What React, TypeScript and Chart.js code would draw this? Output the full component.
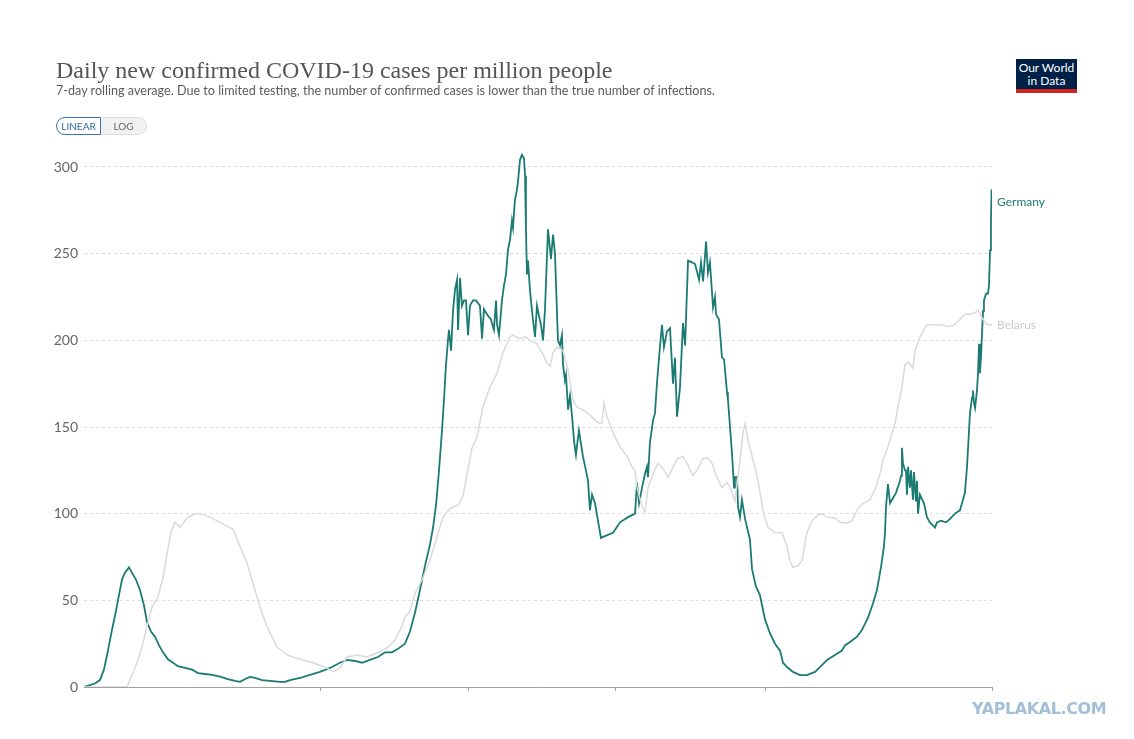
import React, { useEffect, useRef } from "react";
import { Chart, registerables } from "chart.js";

Chart.register(...registerables);

// Days since the start of the displayed window (early March 2020)
const germanyDays = [
  0, 7.4, 10.7, 13.4, 16.1, 18.8, 21.5, 23.5, 25.5, 27.5, 30.2, 32.2, 34.9, 37.6, 40.3, 42.3, 45, 47.7, 50.4, 53.1,
  56.4, 59.8, 63.1, 67.9, 72.6, 76.6, 81.3, 86, 91.4, 96.7, 101.4, 104.8, 108.2, 111.5, 114.9, 119.6, 125, 131.7, 135, 138.4,
  145.1, 151.8, 158.5, 165.3, 172, 176.7, 182.1, 186.8, 192.1, 197.5, 202.2, 206.9, 210.9, 215.6, 219, 222.4, 225.7, 229.1, 232.4, 234.5,
  236.5, 238.5, 240.5, 241.8, 243.2, 244.5, 245.2, 246.6, 247.9, 249.2, 250.6, 251.3, 252.6, 253.9, 255.3, 256.6, 258, 259.3, 261.3, 263.3,
  266, 267.4, 268.7, 270.7, 273.4, 275.4, 276.8, 277.5, 278.8, 280.8, 282.2, 283.5, 284.8, 286.2, 287.5, 288.2, 289.5, 290.9, 291.6, 292.9,
  294.2, 295.6, 296.3, 296.9, 297.6, 298.3, 299.6, 301.6, 303, 304.3, 305.7, 307, 308.4, 309.7, 311.7, 313.7, 315.1, 316.4, 318.4, 319.8,
  321.1, 321.8, 323.1, 323.8, 325.2, 326.5, 327.8, 329.2, 330.5, 332.5, 335.2, 337.2, 338.6, 339.9, 341.3, 343.3, 345.3, 347.3, 350, 355.4,
  360.1, 365.5, 370.2, 371.5, 372.9, 374.9, 376.9, 378.2, 378.9, 380.2, 382.3, 383.6, 384.9, 386.9, 388.3, 389.6, 391.6, 393.7, 395.7, 397,
  398.4, 400.4, 402.4, 403.8, 405.8, 408.5, 410.5, 413.2, 414.5, 415.9, 417.9, 419.2, 420.5, 422.6, 423.9, 424.6, 426.6, 428.6, 430, 432,
  432.6, 435.3, 436.7, 437.3, 438.7, 439.4, 440.7, 442, 444.1, 447.4, 448.8, 451.4, 454.1, 457.5, 460.8, 464.2, 467.6, 469.6, 472.3, 476.3,
  481, 485.7, 491.1, 494.4, 499.2, 504.5, 509.2, 511.2, 514.6, 519.3, 522.7, 526.7, 530, 532.7, 535.4, 537.4, 538.1, 538.8, 540.1, 541.5,
  543.5, 545.5, 548.2, 548.9, 549.5, 550.2, 551.5, 552.2, 552.9, 553.6, 554.9, 555.6, 556.9, 557.6, 558.9, 559.6, 560.3, 561.6, 564.3, 566.3,
  568.3, 571.7, 573, 575.7, 579.1, 581.8, 585.1, 588.5, 591.8, 593.2, 594.5, 595.2, 596.6, 597.2, 597.9, 598.6, 599.9, 600.6, 601.3, 601.9,
  602.6, 603.3, 604, 604.6, 606, 607.3, 608, 608.7, 609.3, 609.7, 610,
];
const germanyValues = [
  0, 2, 4, 10, 21, 33, 44, 53, 62, 66, 69, 66, 62, 56, 47, 37.5, 32, 29, 24, 20,
  16, 14, 12, 11, 10, 8, 7.5, 7, 6, 4.6, 3.5, 3, 4.6, 5.8, 5.2, 4, 3.5, 3, 3, 4,
  5.2, 7, 8.7, 11, 14, 15.6, 15, 14, 15.6, 17.3, 20, 20, 22, 25, 32, 43, 56, 70, 82, 92,
  105, 125, 148, 165, 186, 200, 206, 194, 217, 229, 235, 206, 236, 220, 223, 223, 203, 220, 223, 223,
  220, 201, 218, 215, 212, 206, 223, 209, 203, 223, 232, 238, 252, 258, 269, 265, 281, 287, 292, 304,
  307, 305, 295, 264, 238, 246, 229, 212, 202, 220, 214, 209, 200, 218, 264, 247, 261, 250, 200, 197,
  203, 186, 177, 180, 160, 168, 157, 142, 134, 148, 133, 125, 119, 102, 111, 106, 96, 86, 87, 89,
  95, 98, 100, 118, 106, 115, 123, 127, 121, 141, 154, 158, 175, 196, 209, 196, 205, 207, 175, 190,
  156, 173, 210, 197, 246, 245, 244, 235, 245, 234, 257, 239, 245, 219, 225, 215, 212, 190, 189, 170,
  166, 135, 115, 121, 121, 104, 98, 108, 97, 85, 68, 58, 53, 39, 31, 25, 21, 14, 11.5, 8.7,
  6.9, 6.9, 8.7, 11.5, 15.6, 18.5, 21, 24, 26, 29, 33, 40, 48, 56, 69, 81, 89, 104, 117, 106,
  109, 112, 119, 122, 138, 129, 125, 125, 111, 127, 115, 125, 108, 124, 107, 119, 100, 111, 106, 98,
  95, 92, 95, 96, 95, 97, 100, 102, 112, 127, 147, 158, 167, 171, 164, 161, 171, 181, 198, 181,
  190, 204, 217, 223, 227, 227, 232, 252, 268, 287, 280,
];

const belarusDays = [
  0, 28.9, 35.6, 39, 42.3, 45.7, 49.7, 53.1, 55.8, 58.4, 61.1, 64.5, 69.2, 74.6, 77.9, 84.6, 91.4, 100.1, 104.8, 109.5,
  113.5, 118.2, 122.9, 129.7, 136.4, 145.1, 153.8, 163.2, 167.3, 172, 176.7, 183.4, 190.1, 196.8, 203.6, 208.9, 213.6, 215.6, 219, 222.4,
  227.7, 232.4, 237.1, 241.2, 245.9, 251.3, 254.6, 257.3, 260.7, 264, 268, 272.7, 277.5, 281.5, 286.2, 288.2, 292.9, 296.3, 299.6, 304.3,
  307.7, 311, 313.1, 315.1, 317.8, 321.8, 325.2, 328.5, 331.2, 335.2, 339.9, 343.3, 346.6, 348, 349.3, 351.3, 355.4, 360.1, 364.8, 368.1,
  370.2, 371.5, 374.9, 376.9, 378.9, 382.3, 385.6, 389, 392.3, 395.7, 399, 402.4, 405.8, 409.1, 412.5, 415.9, 419.2, 421.9, 425.2, 428.6,
  432, 435.3, 437.3, 440.7, 442.7, 444.1, 446.1, 449.4, 452.8, 456.1, 459.5, 464.2, 469, 472.3, 474.3, 476.3, 479.7, 482.4, 485.7, 489.1,
  494.4, 499.8, 504.5, 507.9, 512.6, 515.9, 520, 523.3, 528, 531.4, 534.8, 536.8, 540.1, 542.8, 544.8, 546.8, 549.5, 551.5, 553.6, 556.9,
  558.3, 561.6, 566.3, 576.4, 579.8, 583.8, 588.5, 591.8, 595.2, 598.6, 600.6, 603.3, 606.6, 610,
];
const belarusValues = [
  0, 0, 14, 23, 35, 46, 52, 63, 77, 89, 95, 92, 97.5, 100, 100, 98, 95, 91, 81, 71.5,
  60, 46, 35, 23, 18.5, 16, 14, 11, 8.7, 11, 17.3, 18.5, 17.3, 19.6, 22.5, 27, 35, 40, 44, 54,
  63, 73, 86.5, 98, 103, 105, 110, 123, 138, 144, 161.5, 173, 181, 193, 202, 203, 201, 202, 200, 198,
  193, 187, 185, 193, 196, 194, 183, 165.6, 161.5, 160, 157, 154, 152, 152, 164, 156, 146.5, 138.5, 133, 127,
  125, 115, 104, 101, 115, 123, 129, 126, 121, 127, 132, 133, 128, 122, 126, 132, 132, 129, 121, 115,
  118, 112.5, 107, 131, 146.5, 152, 142.5, 131, 119, 102, 92, 89, 89, 81, 73, 69, 70, 73, 89, 96,
  100, 98, 97.5, 95, 94.6, 96, 103, 106, 108, 114, 123, 131, 138.5, 146.5, 152, 161.5, 173, 186, 187.5, 184,
  194, 202, 209, 209, 208, 208.5, 212, 215, 215, 216, 217.5, 213, 209, 209,
];

const yTickValues = [0, 50, 100, 150, 200, 250, 300];
const xTickDays = [159.2, 258.6, 357.4, 457.5, 610];
const germanyName = "Germany";
const belarusName = "Belarus";
const germanyColor = "#1b7b73";
const belarusColor = "#dadada";
const germanyLabelColor = "#1b7b73";
const belarusLabelColor = "#cbcbcb";

const endLabels = {
  id: "endLabels",
  afterDatasetsDraw(chart: any) {
    const ctx = chart.ctx;
    ctx.save();
    ctx.font = "12px Lato";
    ctx.textBaseline = "middle";
    ctx.textAlign = "left";
    chart.data.datasets.forEach((ds: any, i: number) => {
      const meta = chart.getDatasetMeta(i);
      const pt = meta.data[meta.data.length - 1];
      if (!pt) return;
      ctx.fillStyle = ds.labelColor;
      ctx.fillText(ds.label, pt.x + 5, pt.y);
    });
    ctx.restore();
  },
};

export default function App() {
  const canvasRef = useRef<HTMLCanvasElement | null>(null);

  useEffect(() => {
    if (!canvasRef.current) return;
    const yMax = 310;
    const zeroY = 687;
    const pxPerUnit = 520 / 300;
    const chart = new Chart(canvasRef.current, {
      type: "line",
      data: {
        datasets: [
          {
            label: belarusName,
            labelColor: belarusLabelColor,
            data: belarusDays.map((d, i) => ({ x: d, y: belarusValues[i] })),
            borderColor: belarusColor,
            borderWidth: 1.5,
            pointRadius: 0,
            tension: 0,
          } as any,
          {
            label: germanyName,
            labelColor: germanyLabelColor,
            data: germanyDays.map((d, i) => ({ x: d, y: germanyValues[i] })),
            borderColor: germanyColor,
            borderWidth: 1.8,
            pointRadius: 0,
            tension: 0,
          } as any,
        ],
      },
      options: {
        animation: false,
        responsive: false,
        events: [],
        layout: {
          padding: { left: 0, right: 142, top: zeroY - yMax * pxPerUnit, bottom: 739 - zeroY - 10 },
        },
        plugins: {
          legend: { display: false },
          tooltip: { enabled: false },
          title: { display: false },
        },
        scales: {
          x: {
            type: "linear",
            min: 0,
            max: 610,
            afterBuildTicks: (scale: any) => {
              scale.ticks = xTickDays.map((v) => ({ value: v }));
            },
            afterFit: (scale: any) => {
              scale.height = 10;
            },
            ticks: { display: false },
            grid: {
              drawOnChartArea: false,
              drawTicks: true,
              tickLength: 4,
              color: "#a0a0a0",
            },
            border: { display: true, color: "#a0a0a0", width: 1 },
          },
          y: {
            type: "linear",
            min: 0,
            max: yMax,
            afterBuildTicks: (scale: any) => {
              scale.ticks = yTickValues.map((v) => ({ value: v }));
            },
            afterFit: (scale: any) => {
              scale.width = 84;
            },
            ticks: {
              color: "#666",
              font: { family: "Lato", size: 14 },
              padding: 6,
            },
            grid: {
              drawTicks: false,
              color: "#dedede",
              lineWidth: 1,
            },
            border: { display: false, dash: [3, 3] },
          },
        },
      },
      plugins: [endLabels],
    });
    return () => chart.destroy();
  }, []);

  return (
    <div
      style={{
        position: "absolute",
        left: 0,
        top: 0,
        width: 1134,
        height: 739,
        background: "#fff",
        overflow: "hidden",
        fontFamily: "Lato, sans-serif",
      }}
    >
      <canvas
        ref={canvasRef}
        width={1134}
        height={739}
        style={{ position: "absolute", left: 0, top: 0, width: 1134, height: 739 }}
      />
      <div
        style={{
          position: "absolute",
          left: 56,
          top: 55,
          fontFamily: "'Liberation Serif', 'DejaVu Serif', serif",
          fontSize: 24,
          lineHeight: "30px",
          color: "#555",
          whiteSpace: "nowrap",
        }}
      >
        Daily new confirmed COVID-19 cases per million people
      </div>
      <div
        style={{
          position: "absolute",
          left: 56,
          top: 83,
          fontSize: 12.6,
          lineHeight: "16px",
          color: "#5b5b5b",
          whiteSpace: "nowrap",
        }}
      >
        7-day rolling average. Due to limited testing, the number of confirmed cases is lower than the true number of infections.
      </div>
      <div style={{ position: "absolute", left: 56, top: 117, display: "flex", height: 18 }}>
        <div
          style={{
            boxSizing: "border-box",
            width: 45,
            height: 18,
            border: "1px solid #3b74aa",
            borderRadius: "9px 0 0 9px",
            color: "#2c66a0",
            fontSize: 10,
            lineHeight: "16px",
            textAlign: "center",
            background: "#fff",
          }}
        >
          LINEAR
        </div>
        <div
          style={{
            boxSizing: "border-box",
            width: 46,
            height: 18,
            border: "1px solid #ddd",
            borderLeft: "none",
            borderRadius: "0 9px 9px 0",
            color: "#666",
            fontSize: 10,
            lineHeight: "16px",
            textAlign: "center",
            background: "#f1f1f1",
          }}
        >
          LOG
        </div>
      </div>
      <div
        style={{
          position: "absolute",
          left: 1016,
          top: 59,
          width: 61,
          height: 34,
          background: "#002147",
          borderBottom: "4px solid #ce261e",
          boxSizing: "border-box",
          color: "#fff",
          fontSize: 12,
          lineHeight: "13px",
          textAlign: "center",
          paddingTop: 2,
        }}
      >
        Our World
        <br />
        in Data
      </div>
      <div
        style={{
          position: "absolute",
          left: 972,
          top: 699,
          fontFamily: "'DejaVu Sans', sans-serif",
          fontWeight: 700,
          fontSize: 16,
          lineHeight: "20px",
          letterSpacing: -0.4,
          color: "#a3bfd8",
          whiteSpace: "nowrap",
        }}
      >
        YAPLAKAL.COM
      </div>
    </div>
  );
}
